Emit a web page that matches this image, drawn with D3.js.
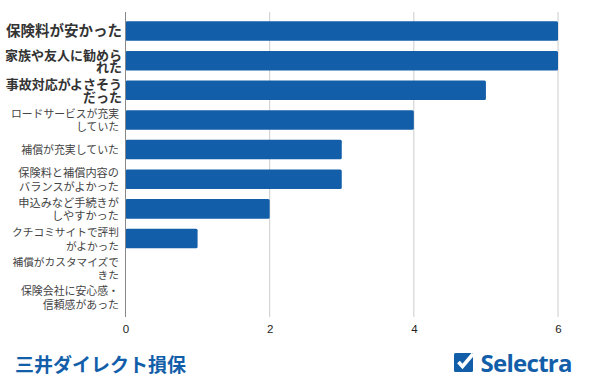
<!DOCTYPE html>
<html>
<head>
<meta charset="utf-8">
<script src="https://cdn.jsdelivr.net/npm/d3@7"></script>
<style>
	body { margin: 0; background: #fff; }
	svg { display: block; font-family: "Noto Sans CJK JP", sans-serif; }
</style>
</head>
<body>
<svg width="590" height="380"></svg>
<script>
// Labels are already split into their lines
const categories = [
	["保険料が安かった"],
	["家族や友人に勧めら", "れた"],
	["事故対応がよさそう", "だった"],
	["ロードサービスが充実", "していた"],
	["補償が充実していた"],
	["保険料と補償内容の", "バランスがよかった"],
	["申込みなど手続きが", "しやすかった"],
	["クチコミサイトで評判", "がよかった"],
	["補償がカスタマイズで", "きた"],
	["保険会社に安心感・", "信頼感があった"],
];
const values = [6, 6, 5, 4, 3, 3, 2, 1, 0, 0];
const xTicks = [0, 2, 4, 6];
const labelSizes = [14.5, 13, 13, 10.8, 10.9, 11.2, 11.2, 10.7, 10.7, 10.9];
const boldCount = 3;
const footerTitle = "三井ダイレクト損保";
const logoText = "Selectra";

const blue = "#125ea9";
const svg = d3.select("svg");

const x = d3.scaleLinear().domain([0, 6]).range([125.5, 558]);
const y = d3
	.scaleBand()
	.domain(d3.range(values.length))
	.range([16.2, 312.6])
	.paddingInner(0.34)
	.paddingOuter(0.17);

// Grid lines and bottom axis
const xAxis = d3
	.axisBottom(x)
	.tickValues(xTicks)
	.tickFormat(d3.format("d"))
	.tickSize(0)
	.tickPadding(0);
const axisG = svg.append("g").attr("transform", "translate(0,325)").call(xAxis);
axisG.select(".domain").remove();
axisG
	.selectAll("text")
	.attr("font-family", "Liberation Sans, Arial, sans-serif")
	.attr("font-size", 11.5)
	.attr("fill", "#222");

svg.selectAll("line.grid")
	.data(xTicks.slice(1))
	.enter()
	.append("line")
	.attr("class", "grid")
	.attr("x1", (d) => x(d))
	.attr("x2", (d) => x(d))
	.attr("y1", 12)
	.attr("y2", 317)
	.attr("stroke", "#ccc");

// Bars
svg.selectAll("rect.bar")
	.data(values)
	.enter()
	.append("rect")
	.attr("class", "bar")
	.attr("x", x(0))
	.attr("y", (d, i) => y(i))
	.attr("width", (d) => x(d) - x(0))
	.attr("height", y.bandwidth())
	.attr("rx", 1.5)
	.attr("fill", blue);

// Baseline
svg.append("line")
	.attr("x1", x(0))
	.attr("x2", x(0))
	.attr("y1", 12)
	.attr("y2", 317)
	.attr("stroke", "#888");

// Category labels
categories.forEach((lines, i) => {
	const bold = i < boldCount;
	const lineH = bold ? 12.5 : 13.6;
	const cy = y(i) + y.bandwidth() / 2;
	lines.forEach((line, j) => {
		svg.append("text")
			.attr("x", bold ? 122 : 119)
			.attr("y", cy + (j - (lines.length - 1) / 2) * lineH + (i === 0 ? -0.5 : 0.5))
			.attr("dy", "0.36em")
			.attr("text-anchor", "end")
			.attr("font-size", labelSizes[i])
			.attr("font-weight", bold ? 700 : 400)
			.attr("fill", bold ? "#333" : "#444")
			.text(line);
	});
});

// Footer
svg.append("text")
	.attr("x", 15)
	.attr("y", 371.5)
	.attr("font-size", 19)
	.attr("font-weight", 700)
	.attr("fill", blue)
	.text(footerTitle);

const logo = svg.append("g").attr("transform", "translate(454,353)");
logo.append("rect")
	.attr("width", 19)
	.attr("height", 19)
	.attr("rx", 1.5)
	.attr("fill", blue);
logo.append("path")
	.attr("d", "M4.5 9 L8.5 13.5 L19 1")
	.attr("fill", "none")
	.attr("stroke", "#fff")
	.attr("stroke-width", 3.6);
logo.append("text")
	.attr("x", 26.5)
	.attr("y", 18.5)
	.attr("font-family", "Open Sans, sans-serif")
	.attr("font-size", 24)
	.attr("font-weight", 700)
	.attr("fill", blue)
	.attr("textLength", 92)
	.text(logoText);
</script>
</body>
</html>
